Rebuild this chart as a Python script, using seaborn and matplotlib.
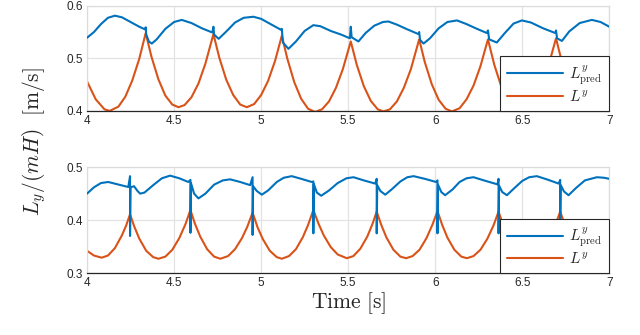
import numpy as np
import pandas as pd
import matplotlib
matplotlib.use("Agg")
import matplotlib.pyplot as plt
import seaborn as sns

# -----------------------------
# Dados
# -----------------------------
# painel superior - L^y (medido)
t_top_meas = [4.00, 4.05, 4.10, 4.13, 4.18, 4.22, 4.26, 4.30, 4.337,
              4.37, 4.41, 4.45, 4.49, 4.525, 4.56, 4.60, 4.64, 4.68, 4.726,
              4.76, 4.80, 4.84, 4.88, 4.918, 4.96, 5.00, 5.04, 5.08, 5.119,
              5.15, 5.19, 5.23, 5.27, 5.31, 5.35, 5.39, 5.43, 5.47, 5.515,
              5.55, 5.59, 5.63, 5.67, 5.703, 5.74, 5.78, 5.82, 5.86, 5.908,
              5.94, 5.98, 6.02, 6.06, 6.096, 6.14, 6.18, 6.22, 6.26, 6.303,
              6.34, 6.38, 6.42, 6.46, 6.49, 6.53, 6.57, 6.61, 6.65, 6.694,
              6.73, 6.77, 6.81, 6.85, 6.885, 6.92, 6.96, 7.00]
v_top_meas = [0.456, 0.422, 0.403, 0.400, 0.408, 0.427, 0.458, 0.499, 0.548,
              0.503, 0.460, 0.429, 0.412, 0.407, 0.411, 0.426, 0.452, 0.490, 0.546,
              0.501, 0.459, 0.430, 0.412, 0.407, 0.413, 0.430, 0.457, 0.495, 0.543,
              0.500, 0.455, 0.423, 0.404, 0.398, 0.403, 0.418, 0.444, 0.480, 0.532,
              0.487, 0.447, 0.419, 0.403, 0.399, 0.403, 0.418, 0.444, 0.479, 0.536,
              0.493, 0.451, 0.421, 0.404, 0.399, 0.405, 0.422, 0.448, 0.485, 0.536,
              0.487, 0.446, 0.417, 0.402, 0.398, 0.403, 0.420, 0.447, 0.485, 0.538,
              0.490, 0.449, 0.420, 0.403, 0.398, 0.403, 0.422, 0.453]

# painel superior - L^y_pred
t_top_pred = [4.00, 4.04, 4.08, 4.12, 4.16, 4.20, 4.25, 4.30, 4.333, 4.337,
              4.340, 4.355, 4.372, 4.40, 4.45, 4.50, 4.544, 4.60, 4.66, 4.72,
              4.726, 4.730, 4.756, 4.80, 4.85, 4.90, 4.956, 5.00, 5.06, 5.115,
              5.119, 5.125, 5.157, 5.20, 5.25, 5.30, 5.34, 5.40, 5.46, 5.51,
              5.515, 5.52, 5.559, 5.60, 5.65, 5.70, 5.731, 5.78, 5.84, 5.904,
              5.908, 5.913, 5.933, 5.97, 6.02, 6.07, 6.125, 6.18, 6.24, 6.297,
              6.303, 6.31, 6.354, 6.40, 6.45, 6.498, 6.55, 6.62, 6.69, 6.694,
              6.70, 6.728, 6.77, 6.83, 6.90, 6.95, 7.00]
v_top_pred = [0.539, 0.550, 0.565, 0.577, 0.581, 0.578, 0.569, 0.560, 0.555, 0.559,
              0.545, 0.532, 0.528, 0.536, 0.556, 0.569, 0.573, 0.567, 0.557, 0.549,
              0.560, 0.545, 0.537, 0.551, 0.568, 0.577, 0.579, 0.575, 0.564, 0.554,
              0.556, 0.530, 0.518, 0.532, 0.552, 0.563, 0.561, 0.552, 0.545, 0.538,
              0.560, 0.540, 0.532, 0.548, 0.562, 0.569, 0.570, 0.564, 0.555, 0.546,
              0.550, 0.535, 0.528, 0.538, 0.557, 0.569, 0.572, 0.565, 0.556, 0.548,
              0.553, 0.536, 0.530, 0.548, 0.566, 0.572, 0.568, 0.557, 0.548, 0.553,
              0.538, 0.533, 0.551, 0.567, 0.573, 0.569, 0.560]

# painel inferior - L^y (medido)
t_bot_meas = [4.00, 4.04, 4.084, 4.12, 4.16, 4.20, 4.225, 4.247,
              4.27, 4.30, 4.34, 4.38, 4.41, 4.45, 4.49, 4.53, 4.565, 4.594,
              4.62, 4.65, 4.69, 4.73, 4.766, 4.81, 4.85, 4.89, 4.92, 4.951,
              4.98, 5.01, 5.05, 5.09, 5.119, 5.16, 5.20, 5.24, 5.27, 5.30,
              5.33, 5.36, 5.40, 5.44, 5.492, 5.53, 5.57, 5.61, 5.64, 5.664,
              5.69, 5.72, 5.76, 5.80, 5.833, 5.87, 5.91, 5.95, 5.985, 6.013,
              6.04, 6.07, 6.11, 6.15, 6.182, 6.22, 6.26, 6.30, 6.335, 6.364,
              6.39, 6.42, 6.46, 6.50, 6.535, 6.57, 6.61, 6.65, 6.69, 6.718,
              6.745, 6.775, 6.815, 6.855, 6.89, 6.93, 6.97, 7.00]
v_bot_meas = [0.342, 0.333, 0.329, 0.333, 0.347, 0.371, 0.390, 0.411,
              0.389, 0.365, 0.342, 0.330, 0.327, 0.331, 0.344, 0.366, 0.392, 0.419,
              0.393, 0.369, 0.345, 0.331, 0.327, 0.332, 0.345, 0.366, 0.387, 0.414,
              0.386, 0.364, 0.342, 0.330, 0.327, 0.332, 0.345, 0.368, 0.391, 0.419,
              0.393, 0.371, 0.349, 0.335, 0.328, 0.332, 0.346, 0.369, 0.393, 0.416,
              0.391, 0.367, 0.344, 0.331, 0.328, 0.332, 0.344, 0.366, 0.392, 0.417,
              0.391, 0.367, 0.344, 0.331, 0.328, 0.332, 0.344, 0.365, 0.390, 0.416,
              0.391, 0.368, 0.345, 0.332, 0.328, 0.331, 0.343, 0.363, 0.391, 0.416,
              0.391, 0.368, 0.345, 0.332, 0.328, 0.332, 0.345, 0.361]

# painel inferior - L^y_pred (com picos verticais)
t_bot_pred = [4.00, 4.04, 4.08, 4.122, 4.17, 4.237, 4.247, 4.247, 4.250, 4.27,
              4.29, 4.305, 4.33, 4.38, 4.43, 4.477, 4.53, 4.582, 4.594, 4.594,
              4.597, 4.615, 4.64, 4.68, 4.73, 4.78, 4.822, 4.88, 4.937, 4.951,
              4.951, 4.954, 4.975, 5.004, 5.04, 5.09, 5.13, 5.176, 5.23, 5.291,
              5.30, 5.30, 5.303, 5.32, 5.345, 5.39, 5.44, 5.49, 5.531, 5.59,
              5.655, 5.664, 5.664, 5.667, 5.685, 5.713, 5.75, 5.80, 5.84, 5.876,
              5.94, 6.005, 6.013, 6.013, 6.016, 6.035, 6.057, 6.10, 6.14, 6.18,
              6.22, 6.29, 6.358, 6.364, 6.364, 6.367, 6.385, 6.412, 6.45, 6.50,
              6.54, 6.584, 6.65, 6.709, 6.718, 6.718, 6.721, 6.74, 6.766, 6.81,
              6.86, 6.929, 6.97, 7.00]
v_bot_pred = [0.450, 0.462, 0.470, 0.472, 0.468, 0.4625, 0.483, 0.370, 0.462, 0.464,
              0.455, 0.450, 0.452, 0.466, 0.479, 0.484, 0.479, 0.472, 0.476, 0.376,
              0.470, 0.450, 0.441, 0.450, 0.467, 0.475, 0.477, 0.472, 0.466, 0.481,
              0.372, 0.464, 0.455, 0.448, 0.456, 0.472, 0.480, 0.483, 0.478, 0.472,
              0.473, 0.375, 0.468, 0.452, 0.446, 0.456, 0.470, 0.479, 0.481, 0.475,
              0.469, 0.478, 0.375, 0.466, 0.455, 0.448, 0.458, 0.473, 0.481, 0.483,
              0.478, 0.472, 0.475, 0.375, 0.467, 0.453, 0.447, 0.458, 0.472, 0.479,
              0.481, 0.474, 0.4675, 0.478, 0.375, 0.465, 0.453, 0.447, 0.459, 0.474,
              0.481, 0.483, 0.476, 0.469, 0.476, 0.375, 0.466, 0.454, 0.447, 0.461,
              0.475, 0.481, 0.480, 0.478]

x_ticks = [4, 4.5, 5, 5.5, 6, 6.5, 7]
x_ticklabels = ["4", "4.5", "5", "5.5", "6", "6.5", "7"]
y_ticks_top = [0.4, 0.5, 0.6]
y_ticks_bot = [0.3, 0.4, 0.5]

label_pred = r"$L^{y}_{\mathrm{pred}}$"
label_meas = r"$L^{y}$"
c_pred = "#0072BD"
c_meas = "#D95319"

# -----------------------------
# Estilo
# -----------------------------
sns.set_style("white")
plt.rcParams["font.family"] = ["Liberation Sans", "DejaVu Sans"]
plt.rcParams["mathtext.fontset"] = "cm"

fig = plt.figure(figsize=(6.4, 3.35), dpi=100)
ax_top = fig.add_axes([0.136, 0.669, 0.816, 0.314])
ax_bot = fig.add_axes([0.136, 0.185, 0.816, 0.316])


def draw_panel(ax, t_pred, v_pred, t_meas, v_meas, yticks):
    sns.lineplot(x=t_pred, y=v_pred, ax=ax, color=c_pred, lw=1.5,
                 estimator=None, sort=False, label=label_pred, zorder=3)
    sns.lineplot(x=t_meas, y=v_meas, ax=ax, color=c_meas, lw=1.5,
                 estimator=None, sort=False, label=label_meas, zorder=2)
    ax.set_xlim(4, 7)
    ax.set_ylim(yticks[0], yticks[-1])
    ax.set_xticks(x_ticks)
    ax.set_xticklabels(x_ticklabels)
    ax.set_yticks(yticks)
    ax.set_yticklabels([f"{v:.1f}" for v in yticks])
    ax.grid(True, color="#e3e3e3", lw=0.9)
    ax.set_axisbelow(True)
    for side in ["top", "right", "left"]:
        ax.spines[side].set_color("#dcdcdc")
        ax.spines[side].set_linewidth(0.9)
    ax.spines["bottom"].set_color("#262626")
    ax.spines["bottom"].set_linewidth(0.9)
    ax.tick_params(direction="in", length=4, width=0.8, colors="#262626",
                   labelsize=8.5, pad=3)
    ax.set_xlabel("")
    ax.set_ylabel("")
    leg = ax.legend(loc="lower right", borderaxespad=0, fancybox=False,
                    framealpha=1, edgecolor="#262626", fontsize=11,
                    handlelength=3.7, borderpad=0.45, labelspacing=0.15,
                    handletextpad=0.4)
    leg.get_frame().set_linewidth(0.8)
    leg.set_zorder(5)


draw_panel(ax_top, t_top_pred, v_top_pred, t_top_meas, v_top_meas, y_ticks_top)
draw_panel(ax_bot, t_bot_pred, v_bot_pred, t_bot_meas, v_bot_meas, y_ticks_bot)

ax_bot.set_xlabel(r"$\mathrm{Time}\ [\mathrm{s}]$", fontsize=15.5, labelpad=1)
fig.text(0.053, 0.577, r"$L_y/(mH)\ \ [\mathrm{m/s}]$", rotation=90,
         ha="center", va="center", fontsize=15.5)

fig.savefig("out.png", dpi=100)
